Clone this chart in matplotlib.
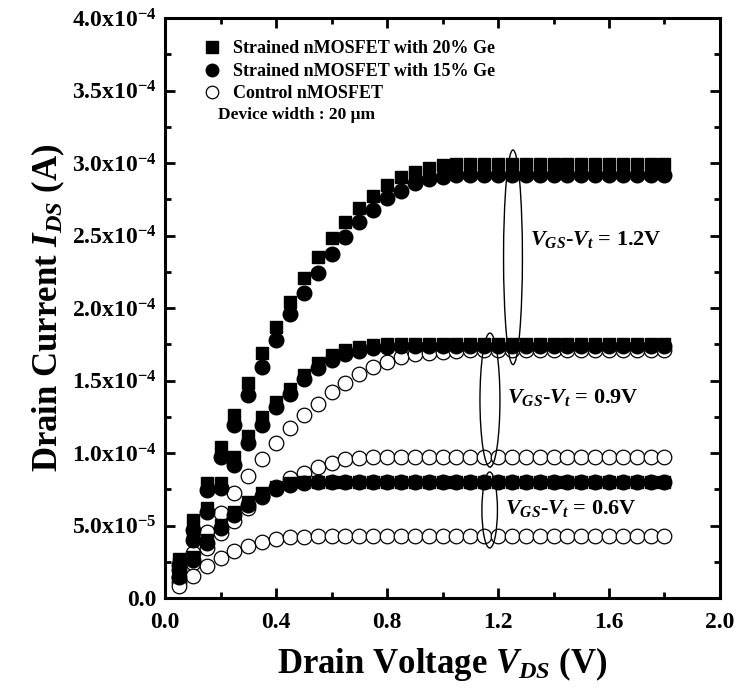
import matplotlib
matplotlib.use("Agg")
import matplotlib.pyplot as plt
from matplotlib.patches import Ellipse
from matplotlib.lines import Line2D
from matplotlib.ticker import MultipleLocator, FixedLocator

plt.rcParams['font.family'] = ['Liberation Serif', 'DejaVu Serif']
plt.rcParams['font.weight'] = 'bold'
plt.rcParams['mathtext.fontset'] = 'custom'
plt.rcParams['mathtext.rm'] = 'Liberation Serif:bold'
plt.rcParams['mathtext.it'] = 'Liberation Serif:italic:bold'
plt.rcParams['mathtext.bf'] = 'Liberation Serif:bold'

# Drain voltage (V)
vds = [0.05, 0.10, 0.15, 0.20, 0.25, 0.30, 0.35, 0.40, 0.45, 0.50, 0.55, 0.60,
       0.65, 0.70, 0.75, 0.80, 0.85, 0.90, 0.95, 1.00, 1.05, 1.10, 1.15, 1.20,
       1.25, 1.30, 1.35, 1.40, 1.45, 1.50, 1.55, 1.60, 1.65, 1.70, 1.75, 1.80]

# 20% Ge (squares), values in units of 1e-4 A
ge20_12 = [0.27, 0.538, 0.795, 1.044, 1.262, 1.48, 1.687, 1.871, 2.044, 2.205, 2.354, 2.485,
           2.596, 2.692, 2.773, 2.849, 2.906, 2.94, 2.963, 2.986, 2.99, 2.995, 2.995, 2.995,
           2.995, 2.995, 2.995, 2.995, 2.995, 2.995, 2.995, 2.995, 2.995, 2.995, 2.995, 2.995]
ge20_09 = [0.235, 0.435, 0.618, 0.795, 0.975, 1.117, 1.246, 1.354, 1.44, 1.538, 1.619, 1.676,
           1.71, 1.733, 1.745, 1.75, 1.75, 1.75, 1.75, 1.75, 1.75, 1.75, 1.75, 1.75,
           1.75, 1.75, 1.75, 1.75, 1.75, 1.75, 1.75, 1.75, 1.75, 1.75, 1.75, 1.75]
ge20_06 = [0.175, 0.285, 0.40, 0.503, 0.595, 0.664, 0.722, 0.768, 0.79, 0.80, 0.80, 0.80,
           0.80, 0.80, 0.80, 0.80, 0.80, 0.80, 0.80, 0.80, 0.80, 0.80, 0.80, 0.80,
           0.80, 0.80, 0.80, 0.80, 0.80, 0.80, 0.80, 0.80, 0.80, 0.80, 0.80, 0.80]

# 15% Ge (filled circles)
ge15_12 = [0.23, 0.469, 0.745, 0.975, 1.193, 1.40, 1.595, 1.78, 1.959, 2.101, 2.244, 2.373,
           2.492, 2.596, 2.676, 2.757, 2.809, 2.86, 2.89, 2.905, 2.915, 2.92, 2.92, 2.92,
           2.92, 2.92, 2.92, 2.92, 2.92, 2.92, 2.92, 2.92, 2.92, 2.92, 2.92, 2.92]
ge15_09 = [0.195, 0.40, 0.595, 0.76, 0.917, 1.067, 1.193, 1.315, 1.41, 1.508, 1.584, 1.641,
           1.683, 1.706, 1.722, 1.733, 1.735, 1.735, 1.735, 1.735, 1.735, 1.735, 1.735, 1.735,
           1.735, 1.735, 1.735, 1.735, 1.735, 1.735, 1.735, 1.735, 1.735, 1.735, 1.735, 1.735]
ge15_06 = [0.145, 0.262, 0.377, 0.485, 0.572, 0.641, 0.706, 0.749, 0.78, 0.795, 0.797, 0.797,
           0.797, 0.797, 0.797, 0.797, 0.797, 0.797, 0.797, 0.797, 0.797, 0.797, 0.797, 0.797,
           0.797, 0.797, 0.797, 0.797, 0.797, 0.797, 0.797, 0.797, 0.797, 0.797, 0.797, 0.797]

# Control (open circles)
ctrl_12 = [0.147, 0.313, 0.457, 0.589, 0.722, 0.844, 0.956, 1.067, 1.17, 1.262, 1.338, 1.418,
           1.48, 1.543, 1.591, 1.63, 1.664, 1.683, 1.692, 1.70, 1.705, 1.708, 1.71, 1.71,
           1.71, 1.71, 1.71, 1.71, 1.71, 1.71, 1.71, 1.71, 1.71, 1.71, 1.71, 1.71]
ctrl_09 = [0.113, 0.239, 0.343, 0.45, 0.533, 0.618, 0.699, 0.768, 0.825, 0.864, 0.906, 0.933,
           0.956, 0.966, 0.97, 0.975, 0.975, 0.975, 0.975, 0.975, 0.975, 0.975, 0.975, 0.975,
           0.975, 0.975, 0.975, 0.975, 0.975, 0.975, 0.975, 0.975, 0.975, 0.975, 0.975, 0.975]
ctrl_06 = [0.08, 0.152, 0.22, 0.274, 0.324, 0.359, 0.389, 0.407, 0.418, 0.423, 0.428, 0.43,
           0.43, 0.43, 0.43, 0.43, 0.43, 0.43, 0.43, 0.43, 0.43, 0.43, 0.43, 0.43,
           0.43, 0.43, 0.43, 0.43, 0.43, 0.43, 0.43, 0.43, 0.43, 0.43, 0.43, 0.43]

legend_labels = ['Strained nMOSFET with 20% Ge', 'Strained nMOSFET with 15% Ge', 'Control nMOSFET']
ytick_vals = [0.0, 0.5, 1.0, 1.5, 2.0, 2.5, 3.0, 3.5, 4.0]
ytick_labels = ['0.0', r'5.0x10$^{-5}$', r'1.0x10$^{-4}$', r'1.5x10$^{-4}$', r'2.0x10$^{-4}$',
                r'2.5x10$^{-4}$', r'3.0x10$^{-4}$', r'3.5x10$^{-4}$', r'4.0x10$^{-4}$']
xtick_vals = [0.0, 0.4, 0.8, 1.2, 1.6, 2.0]
vgs_labels = [r'$V_{GS}$-$V_t$ = 1.2V', r'$V_{GS}$-$V_t$ = 0.9V', r'$V_{GS}$-$V_t$ = 0.6V']

scale = 1e-4

fig = plt.figure(figsize=(7.38, 6.96), dpi=100)
ax = fig.add_axes([0.2236, 0.1408, 0.752, 0.8333])

def s(v):
    return [val * scale for val in v]

for ys in (ctrl_12, ctrl_09, ctrl_06):
    ax.plot(vds, s(ys), linestyle='none', marker='o', ms=10.5, mfc='white', mec='black', mew=0.9)
for ys in (ge15_12, ge15_09, ge15_06):
    ax.plot(vds, s(ys), linestyle='none', marker='o', ms=10.5, mfc='black', mec='black')
for ys in (ge20_12, ge20_09, ge20_06):
    ax.plot(vds, s(ys), linestyle='none', marker='s', ms=9, mfc='black', mec='black')

# ellipses grouping the curves
ell_specs = [((1.254, 2.35e-4), 0.068, 1.48e-4),
             ((1.171, 1.365e-4), 0.072, 0.925e-4),
             ((1.170, 0.607e-4), 0.056, 0.524e-4)]
for (c, w, h) in ell_specs:
    ax.add_patch(Ellipse(c, w, h, fill=False, edgecolor='black', lw=1.0, zorder=5))

ax.text(1.315, 2.47e-4, vgs_labels[0], fontsize=16, fontweight='bold', va='center', ha='left')
ax.text(1.232, 1.38e-4, vgs_labels[1], fontsize=16, fontweight='bold', va='center', ha='left')
ax.text(1.225, 0.62e-4, vgs_labels[2], fontsize=16, fontweight='bold', va='center', ha='left')

handles = [Line2D([], [], linestyle='none', marker='s', ms=8, mfc='black', mec='black'),
           Line2D([], [], linestyle='none', marker='o', ms=9, mfc='black', mec='black'),
           Line2D([], [], linestyle='none', marker='o', ms=9, mfc='white', mec='black', mew=0.9)]
ax.legend(handles, legend_labels, loc='upper left', bbox_to_anchor=(0.045, 0.98), frameon=False,
          prop={'family': 'Liberation Serif', 'weight': 'bold', 'size': 13},
          handletextpad=0.6, labelspacing=0.3, handlelength=1.2, borderaxespad=0.2)
ax.text(0.095, 0.832, 'Device width : 20 \u03bcm', transform=ax.transAxes, fontsize=12.5,
        fontweight='bold', va='center', ha='left')

ax.set_xlim(0, 2.0)
ax.set_ylim(0, 4.0e-4)
ax.xaxis.set_major_locator(FixedLocator(xtick_vals))
ax.xaxis.set_minor_locator(MultipleLocator(0.2))
ax.set_xticklabels([f'{v:.1f}' for v in xtick_vals])
ax.yaxis.set_major_locator(FixedLocator([v * scale for v in ytick_vals]))
ax.yaxis.set_minor_locator(MultipleLocator(0.25e-4))
ax.set_yticklabels(ytick_labels)

ax.tick_params(which='both', direction='in', top=True, right=True, width=2, labelsize=17)
ax.tick_params(which='major', length=7)
ax.tick_params(which='minor', length=4)
ax.tick_params(axis='x', which='major', pad=10)
ax.tick_params(axis='y', which='major', pad=6)
for lab in ax.get_xticklabels() + ax.get_yticklabels():
    lab.set_fontweight('bold')
for sp in ax.spines.values():
    sp.set_linewidth(2.2)

ax.set_xlabel(r'Drain Voltage $V_{DS}$ (V)', fontsize=25, fontweight='bold', labelpad=9)
ax.set_ylabel(r'Drain Current $I_{DS}$ (A)', fontsize=25, fontweight='bold', labelpad=4)

fig.savefig('out.png', dpi=100)
